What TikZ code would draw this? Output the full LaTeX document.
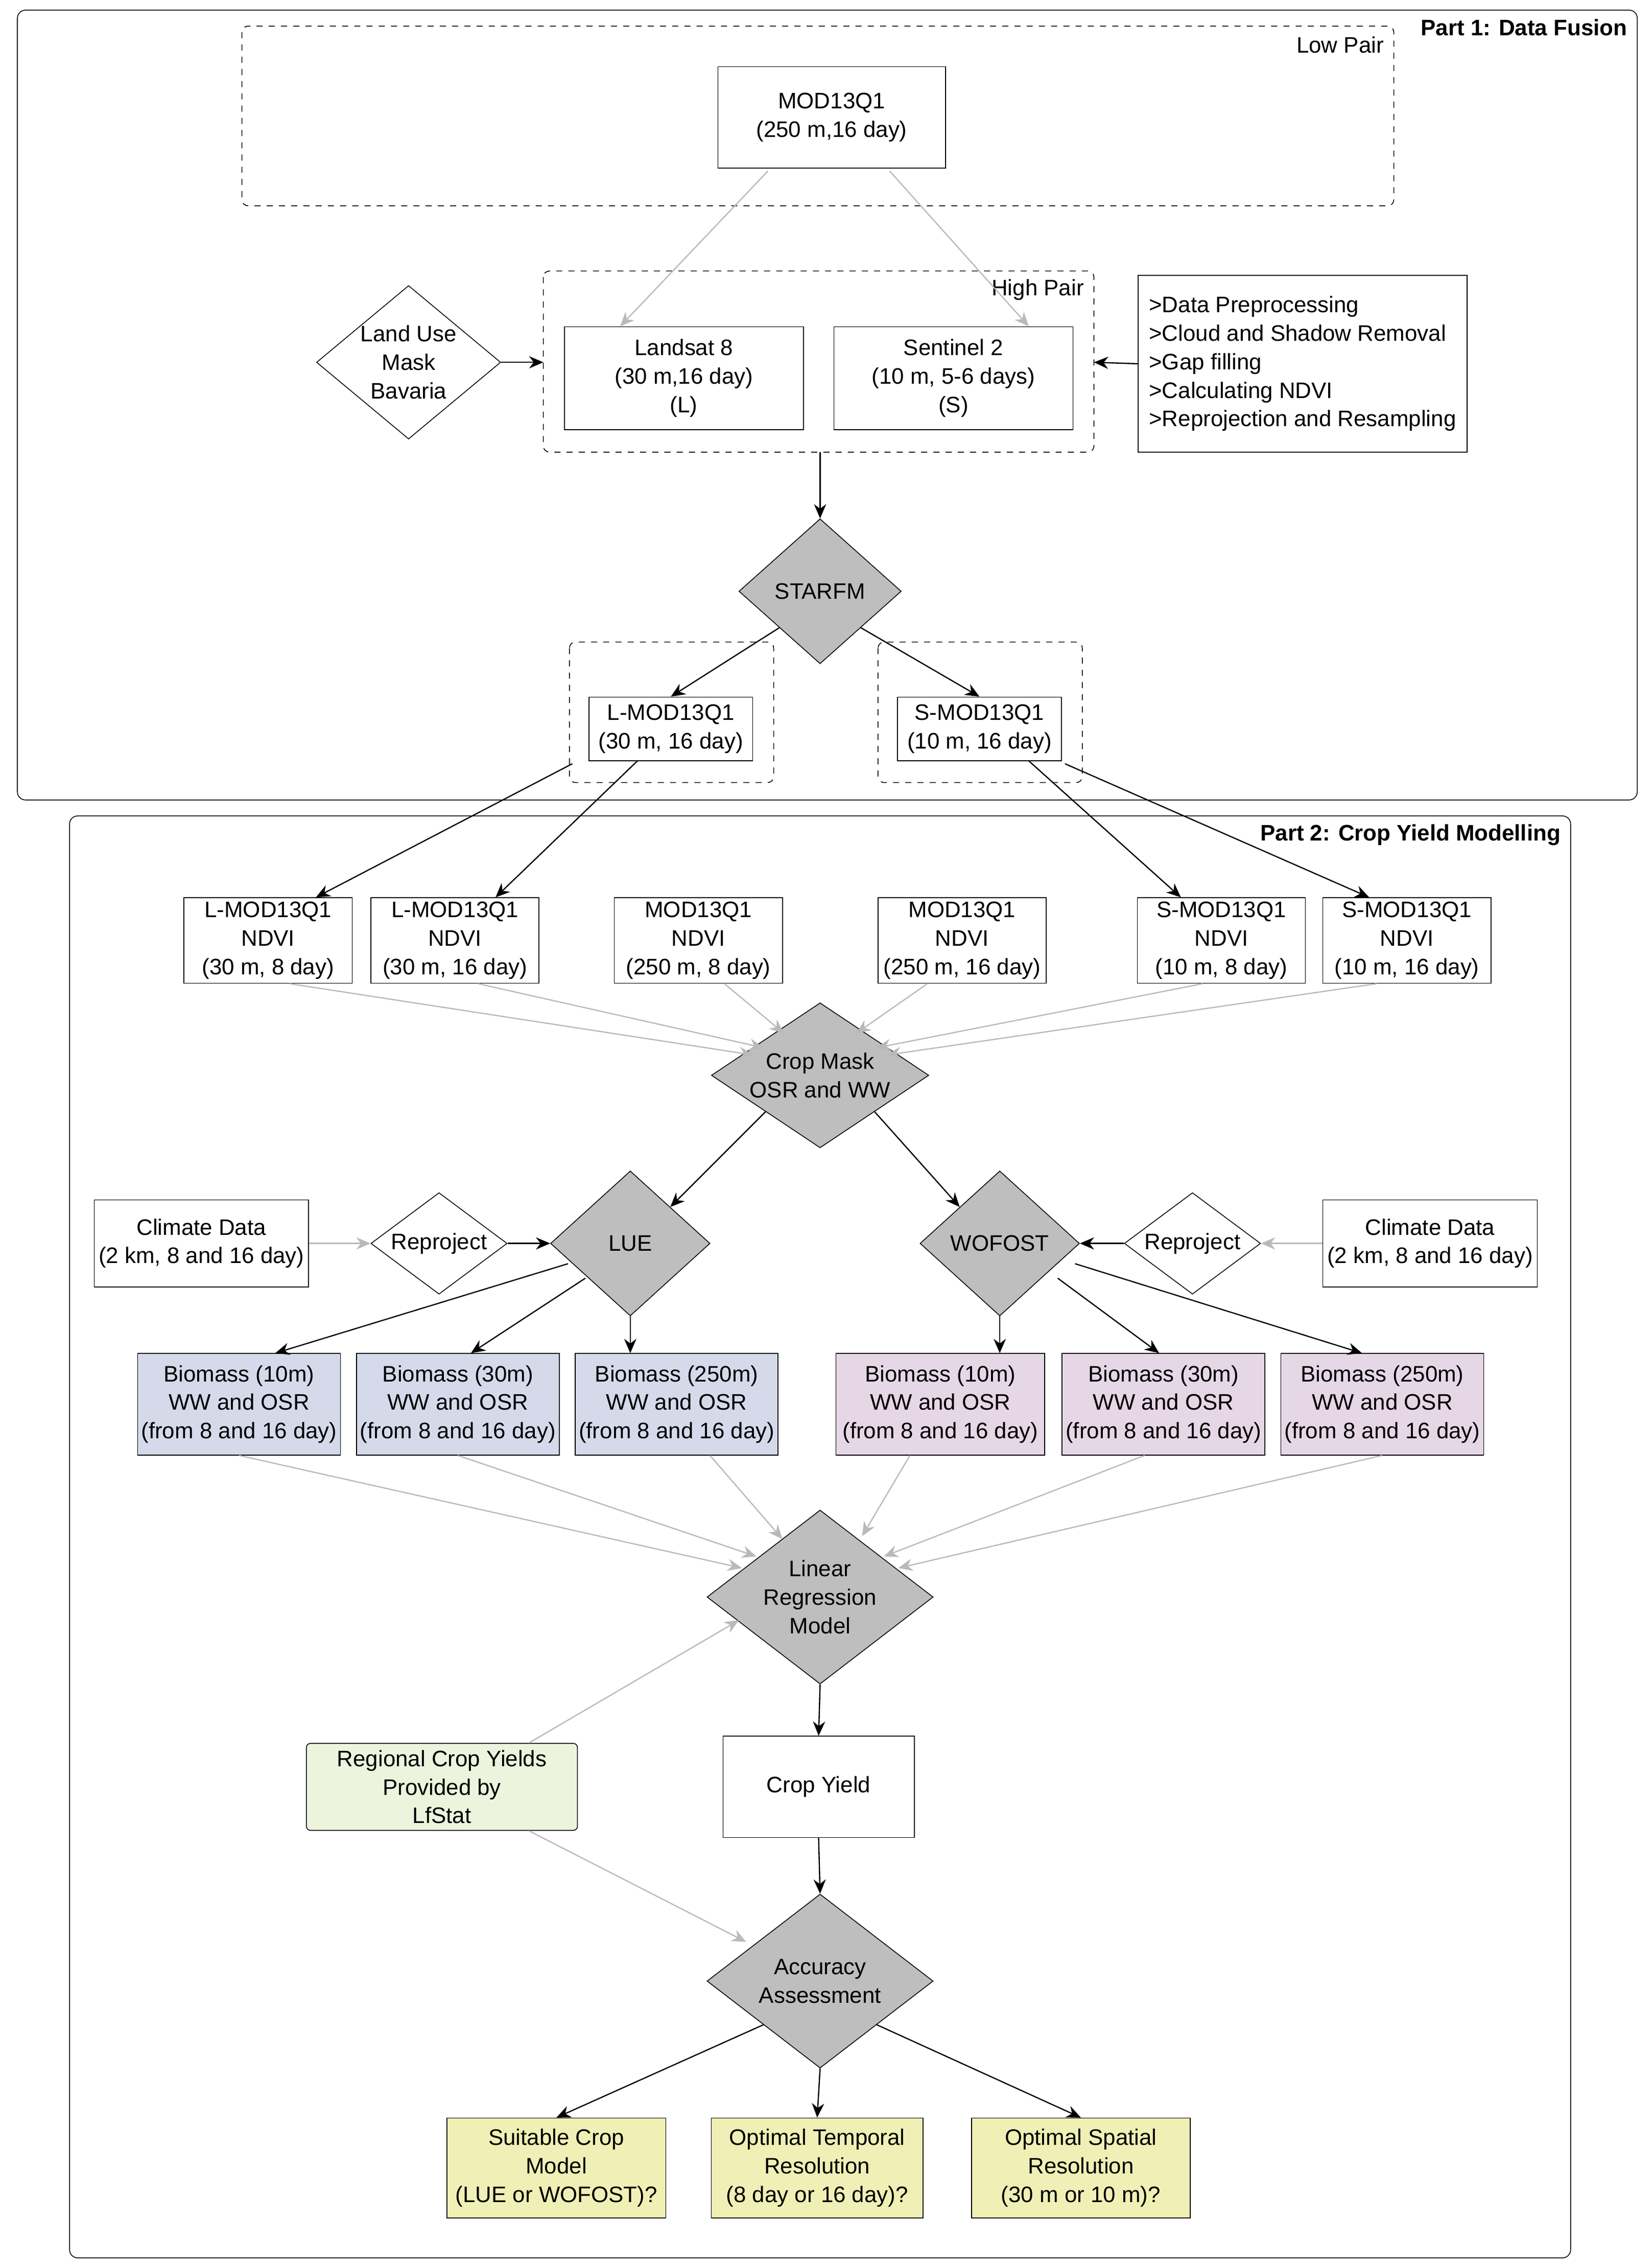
\documentclass[tikz,border=0pt]{standalone}
\usepackage{fontspec}
\setmainfont{Liberation Sans}
\usetikzlibrary{shapes.geometric,arrows.meta}
\definecolor{dgray}{RGB}{190,190,190}
\definecolor{lgray}{RGB}{185,185,185}
\definecolor{bblue}{RGB}{213,218,235}
\definecolor{bpink}{RGB}{230,215,230}
\definecolor{bgreen}{RGB}{236,244,222}
\definecolor{byellow}{RGB}{240,240,182}
\begin{document}
\begin{tikzpicture}[x=0.025cm,y=-0.025cm,
  every node/.style={font=\fontsize{11}{14}\selectfont, align=center},
  box/.style={draw, rectangle, inner sep=1pt},
  dia/.style={draw, diamond, inner sep=0pt, fill=dgray},
  wdia/.style={draw, diamond, inner sep=0pt, fill=white},
  dbox/.style={draw, dashed, rounded corners=3pt},
  arr/.style={-{Stealth[length=7pt,width=6pt]}, line width=0.6pt},
  garr/.style={-{Stealth[length=7pt,width=6pt]}, line width=0.6pt, lgray},
  nd/.style={box, minimum width=2.9cm, minimum height=1.475cm},
  bm/.style={box, minimum width=3.5cm, minimum height=1.75cm},
  obox/.style={box, fill=byellow, minimum height=1.725cm}]
\useasboundingbox (0,0) rectangle (1140,1565);
% Part 1
\draw[rounded corners=4pt] (12,7) rectangle (1130,552);
\node[anchor=east, font=\fontsize{11}{14}\selectfont\bfseries] at (1128,19) {Part 1: Data Fusion};
\draw[dbox] (167,18) rectangle (962,142);
\node[anchor=east] at (960,31) {Low Pair};
\node[box, minimum width=3.925cm, minimum height=1.75cm] (mod) at (574,81) {MOD13Q1\\(250 m,16 day)};
\draw[dbox] (375,187) rectangle (755,312);
\coordinate (hpl) at (375,250); \coordinate (hpr) at (755,250); \coordinate (hpb) at (566,312);
\node[anchor=east] at (753,200) {High Pair};
\node[box, minimum width=4.125cm, minimum height=1.775cm] (ls) at (472,261) {Landsat 8\\(30 m,16 day)\\(L)};
\node[box, minimum width=4.125cm, minimum height=1.775cm] (s2) at (658,261) {Sentinel 2\\(10 m, 5-6 days)\\(S)};
\node[wdia, minimum width=3.1cm, minimum height=2.6cm, aspect=1.2] (lu) at (282,250) {Land Use\\Mask\\Bavaria};
\node[box, minimum width=5.675cm, minimum height=3.05cm, align=left] (pre) at (899,251) {>Data Preprocessing\\>Cloud and Shadow Removal\\>Gap filling\\>Calculating NDVI\\>Reprojection and Resampling};
\coordinate (m1) at (530,118); \coordinate (m2) at (614,118);
\draw[garr] (m1) -- (ls.north -| 428,0);
\draw[garr] (m2) -- (s2.north -| 710,0);
\draw[arr] (lu.east) -- (hpl);
\draw[arr] (pre.west) -- (hpr);
\node[dia, minimum width=2.8cm, minimum height=2.5cm, aspect=1.12] (st) at (566,408) {STARFM};
\draw[arr] (hpb) -- (st.north);
\draw[dbox] (393,443) rectangle (534,540);
\draw[dbox] (606,443) rectangle (747,540);
\node[box, minimum width=2.825cm, minimum height=1.1cm] (lm) at (463,503) {L-MOD13Q1\\(30 m, 16 day)};
\node[box, minimum width=2.825cm, minimum height=1.1cm] (sm) at (676,503) {S-MOD13Q1\\(10 m, 16 day)};
\draw[arr] (st.south west) -- (lm.north);
\draw[arr] (st.south east) -- (sm.north);
% Part 2
\draw[rounded corners=4pt] (48,563) rectangle (1084,1558);
\node[anchor=east, font=\fontsize{11}{14}\selectfont\bfseries] at (1082,576) {Part 2: Crop Yield Modelling};
\node[nd] (n1) at (185,649) {L-MOD13Q1\\NDVI\\(30 m, 8 day)};
\node[nd] (n2) at (314,649) {L-MOD13Q1\\NDVI\\(30 m, 16 day)};
\node[nd] (n3) at (482,649) {MOD13Q1\\NDVI\\(250 m, 8 day)};
\node[nd] (n4) at (664,649) {MOD13Q1\\NDVI\\(250 m, 16 day)};
\node[nd] (n5) at (843,649) {S-MOD13Q1\\NDVI\\(10 m, 8 day)};
\node[nd] (n6) at (971,649) {S-MOD13Q1\\NDVI\\(10 m, 16 day)};
\coordinate (la) at (395,527); \coordinate (lb) at (440,525);
\coordinate (sa) at (710,525); \coordinate (sb) at (735,527);
\draw[arr] (la) -- (n1.north -| 218,0);
\draw[arr] (lb) -- (n2.north -| 342,0);
\draw[arr] (sa) -- (n5.north -| 815,0);
\draw[arr] (sb) -- (n6.north -| 945,0);
\node[dia, minimum width=3.75cm, minimum height=2.5cm, aspect=1.5] (cm) at (566,742) {Crop Mask\\OSR and WW};
\coordinate (c1) at (520,728); \coordinate (c2) at (527,723); \coordinate (c3) at (541,713);
\coordinate (c4) at (591,713); \coordinate (c5) at (605,723); \coordinate (c6) at (612,728);
\draw[garr] (n1.south -| 200,0) -- (c1);
\draw[garr] (n2.south -| 330,0) -- (c2);
\draw[garr] (n3.south -| 500,0) -- (c3);
\draw[garr] (n4.south -| 640,0) -- (c4);
\draw[garr] (n5.south -| 830,0) -- (c5);
\draw[garr] (n6.south -| 950,0) -- (c6);
\node[dia, minimum width=2.75cm, minimum height=2.5cm, aspect=1.1] (lue) at (435,858) {LUE};
\node[dia, minimum width=2.75cm, minimum height=2.5cm, aspect=1.1] (wof) at (690,858) {WOFOST};
\draw[arr] (cm.south west) -- (lue.north east);
\draw[arr] (cm.south east) -- (wof.north west);
\node[wdia, minimum width=2.35cm, minimum height=1.75cm, aspect=1.34] (rp1) at (303,858) {Reproject};
\node[wdia, minimum width=2.35cm, minimum height=1.75cm, aspect=1.34] (rp2) at (823,858) {Reproject};
\node[box, minimum width=3.7cm, minimum height=1.5cm] (cl1) at (139,858) {Climate Data\\(2 km, 8 and 16 day)};
\node[box, minimum width=3.7cm, minimum height=1.5cm] (cl2) at (987,858) {Climate Data\\(2 km, 8 and 16 day)};
\draw[garr] (cl1.east) -- (rp1.west);
\draw[garr] (cl2.west) -- (rp2.east);
\draw[arr] (rp1.east) -- (lue.west);
\draw[arr] (rp2.west) -- (wof.east);
\node[bm, fill=bblue] (b1) at (165,969) {Biomass (10m)\\WW and OSR\\(from 8 and 16 day)};
\node[bm, fill=bblue] (b2) at (316,969) {Biomass (30m)\\WW and OSR\\(from 8 and 16 day)};
\node[bm, fill=bblue] (b3) at (467,969) {Biomass (250m)\\WW and OSR\\(from 8 and 16 day)};
\node[bm, fill=bpink, minimum width=3.6cm] (b4) at (649,969) {Biomass (10m)\\WW and OSR\\(from 8 and 16 day)};
\node[bm, fill=bpink] (b5) at (803,969) {Biomass (30m)\\WW and OSR\\(from 8 and 16 day)};
\node[bm, fill=bpink] (b6) at (954,969) {Biomass (250m)\\WW and OSR\\(from 8 and 16 day)};
\coordinate (l1) at (392,872); \coordinate (l2) at (404,882);
\coordinate (w1) at (730,882); \coordinate (w2) at (742,872);
\draw[arr] (l1) -- (b1.north -| 190,0);
\draw[arr] (l2) -- (b2.north -| 325,0);
\draw[arr] (lue.south) -- (b3.north -| lue.south);
\draw[arr] (wof.south) -- (b4.north -| wof.south);
\draw[arr] (w1) -- (b5.north -| 800,0);
\draw[arr] (w2) -- (b6.north -| 940,0);
\node[dia, minimum width=3.9cm, minimum height=3cm, aspect=1.3] (lr) at (566,1102) {Linear\\Regression\\Model};
\coordinate (r1) at (512,1082); \coordinate (r2) at (522,1074); \coordinate (r3) at (540,1062);
\coordinate (r4) at (595,1060); \coordinate (r5) at (610,1074); \coordinate (r6) at (620,1082);
\draw[garr] (b1.south) -- (r1);
\draw[garr] (b2.south) -- (r2);
\draw[garr] (b3.south -| 490,0) -- (r3);
\draw[garr] (b4.south -| 628,0) -- (r4);
\draw[garr] (b5.south -| 790,0) -- (r5);
\draw[garr] (b6.south) -- (r6);
\node[box, minimum width=3.3cm, minimum height=1.75cm] (cy) at (565,1233) {Crop Yield};
\draw[arr] (lr.south) -- (cy.north);
\node[box, fill=bgreen, minimum width=4.675cm, minimum height=1.5cm, rounded corners=2pt] (reg) at (305,1233) {Regional Crop Yields\\Provided by\\LfStat};
\coordinate (lrl) at (510,1118); \coordinate (acl) at (515,1340);
\draw[garr] (reg.north -| 365,0) -- (lrl);
\draw[garr] (reg.south -| 365,0) -- (acl);
\node[dia, minimum width=3.9cm, minimum height=3cm, aspect=1.3] (acc) at (566,1367) {Accuracy\\Assessment};
\draw[arr] (cy.south) -- (acc.north);
\node[obox, minimum width=3.775cm] (o1) at (384,1496) {Suitable Crop\\Model\\(LUE or WOFOST)?};
\node[obox, minimum width=3.65cm] (o2) at (564,1496) {Optimal Temporal\\Resolution\\(8 day or 16 day)?};
\node[obox, minimum width=3.775cm] (o3) at (746,1496) {Optimal Spatial\\Resolution\\(30 m or 10 m)?};
\draw[arr] (acc.south west) -- (o1.north);
\draw[arr] (acc.south) -- (o2.north);
\draw[arr] (acc.south east) -- (o3.north);
\end{tikzpicture}
\end{document}
